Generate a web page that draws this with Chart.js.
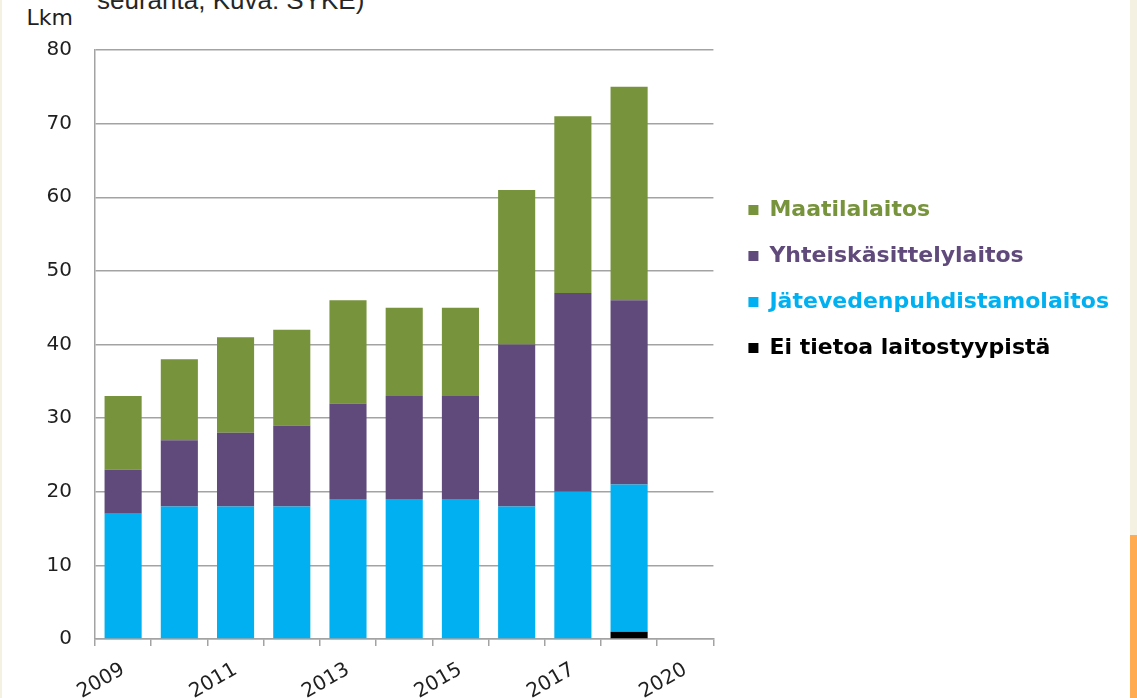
<!DOCTYPE html>
<html><head><meta charset="utf-8">
<script src="https://cdn.jsdelivr.net/npm/chart.js@4"></script>
<style>
html,body{margin:0;padding:0;background:#fff;}
#wrap{position:relative;width:1137px;height:698px;overflow:hidden;background:#fff;}
.stripL{position:absolute;left:0;top:0;width:2px;height:698px;background:#f4f0e2;}
.stripR{position:absolute;left:1130px;top:0;width:7px;height:698px;background:#f4f0e2;}
.orange{position:absolute;left:1130px;top:535px;width:7px;height:163px;background:#ffab52;}
#title{position:absolute;left:97px;top:-13.5px;font:26px 'Liberation Sans',Arial,sans-serif;line-height:26px;color:#262626;white-space:nowrap;}
#unit{position:absolute;left:0;top:8px;width:73px;text-align:right;font:22px 'DejaVu Sans',sans-serif;line-height:20px;color:#1f1f1f;}
canvas{position:absolute;left:0;top:0;}
</style></head><body>
<div id="wrap">
 <div class="stripL"></div><div class="stripR"></div><div class="orange"></div>
 <div id="title">seuranta, Kuva: SYKE)</div>
 <div id="unit">Lkm</div>
 <canvas id="c" width="1137" height="698"></canvas>
</div>
<script>
const categories = ['2009','2010','2011','2012','2013','2014','2015','2016','2017','2018','2019'];
const tickLabels = ['2009','','2011','','2013','','2015','','2017','','2020'];
const eiTietoa  = [0,0,0,0,0,0,0,0,0,1,null];
const jatevesi  = [17,18,18,18,19,19,19,18,20,20,null];
const yhteis    = [6,9,10,11,13,14,14,22,27,25,null];
const maatila   = [10,11,13,13,14,12,12,21,24,29,null];
const seriesNames = ['Ei tietoa laitostyypistä','Jätevedenpuhdistamolaitos','Yhteiskäsittelylaitos','Maatilalaitos'];
const seriesColors = ['#000000','#00b0f0','#604a7b','#77933c'];
const gridColor = '#a3a3a3';
const txtColor = '#1f1f1f';

const data = {
  labels: categories,
  datasets: [eiTietoa, jatevesi, yhteis, maatila].map((d,i)=>({
    label: seriesNames[i], data: d, backgroundColor: seriesColors[i], borderWidth: 0,
    categoryPercentage: 1, barPercentage: 0.66
  }))
};

new Chart(document.getElementById('c'), {
  type: 'bar',
  data,
  options: {
    responsive: false, animation: false,
    layout: { padding: { top: 50, right: 18, left: 0, bottom: 0 } },
    plugins: {
      tooltip: { enabled: false },
      legend: {
        position: 'right', align: 'start', reverse: true, maxWidth: 420,
        title: { display: true, text: ' ', font: { size: 10 }, padding: { top: 0, bottom: 113 } },
        labels: {
          boxWidth: 10, boxHeight: 10, padding: 24,
          font: { family: 'DejaVu Sans', size: 22, weight: 'bold' },
          generateLabels(chart) {
            const items = Chart.defaults.plugins.legend.labels.generateLabels(chart);
            items.forEach(it => { it.fontColor = seriesColors[it.datasetIndex]; it.lineWidth = 0; });
            return items;
          }
        }
      }
    },
    scales: {
      x: {
        stacked: true, offset: true,
        grid: { display: true, drawOnChartArea: false, drawTicks: true, tickLength: 7, offset: true, color: gridColor, lineWidth: 1.5 },
        border: { display: true, color: gridColor, width: 1.5 },
        ticks: {
          autoSkip: false, maxRotation: 30, minRotation: 30, labelOffset: 0, padding: 12,
          color: txtColor, font: { family: 'DejaVu Sans', size: 20 },
          callback: (v, i) => tickLabels[i]
        },
        afterFit: s => { s.height = 59; }
      },
      y: {
        stacked: true, min: 0, max: 80,
        grid: { color: gridColor, lineWidth: 1.5, drawTicks: false },
        border: { display: true, color: gridColor, width: 1.5 },
        ticks: { stepSize: 10, padding: 23, color: txtColor, font: { family: 'DejaVu Sans', size: 20 } },
        afterFit: s => { s.width = 95; }
      },
      yR: {
        type: 'linear', position: 'right', display: true,
        grid: { display: false }, border: { display: false }, ticks: { display: false },
        afterFit: s => { s.width = 11; }
      }
    }
  }
});
</script>
</body></html>
